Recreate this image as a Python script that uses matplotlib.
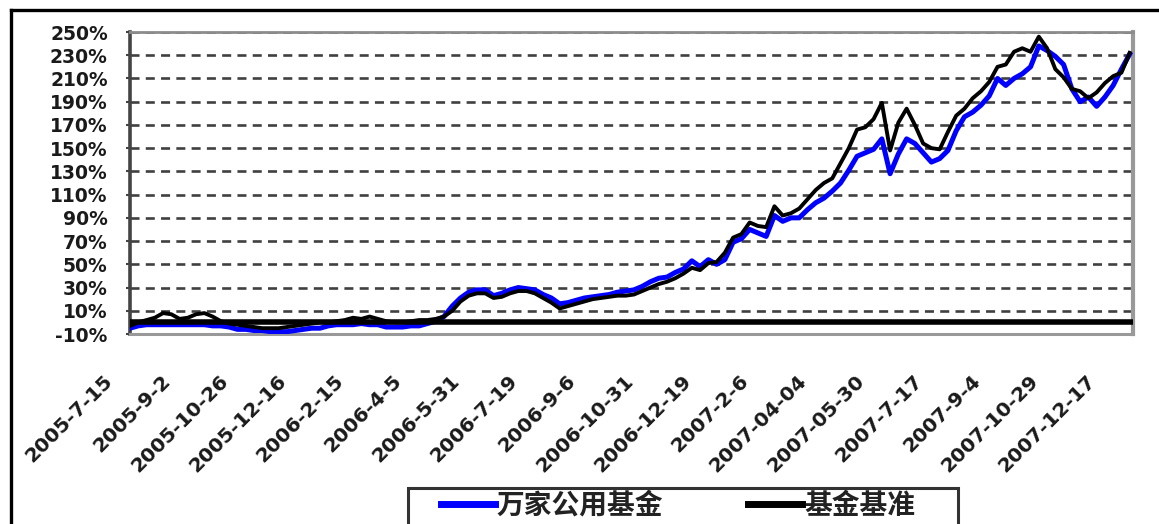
import numpy as np
import matplotlib.pyplot as plt
from matplotlib.transforms import ScaledTranslation
from matplotlib.patches import Rectangle
from matplotlib.lines import Line2D

plt.rcParams['lines.scale_dashes'] = False

# cumulative return (%), one reading about every 5 trading days, 2005-7-15 .. end of 2007
fund_values = [-5, -3, -2, -2, -2, -2, -2, -2, -2, -2,
               -3, -3, -4, -6, -6, -7, -7, -8, -8, -8,
               -7, -6, -5, -5, -3, -2, -2, -2, -1, -2,
               -2, -4, -4, -4, -3, -3,
               -1, 1, 5, 14, 21, 26, 28, 28, 23, 25,
               28, 30, 29, 28, 24, 21, 16, 17, 19, 21,
               22, 23, 24, 26, 27, 28, 31, 35, 38, 39,
               43, 46, 53, 48, 54,
               50, 54, 69, 72, 80, 77, 74, 92, 87, 90,
               90, 97, 103, 107, 113, 120, 131, 143, 146, 149,
               158, 128, 145, 158, 154, 146, 138, 141, 148, 165,
               177, 181, 187, 195, 210, 204, 210, 214, 220, 238,
               234, 229, 222, 201, 190, 194, 186, 194, 204, 218,
               231]
bench_values = [-3, 0, 2, 4, 8, 7, 3, 4, 7, 8,
                5, 1, -1, -2, -3, -4, -5, -5, -5, -4,
                -3, -2, -1, 0, 0, 1, 2, 4, 3, 5,
                3, 1, 0, 0, 1, 2,
                2, 3, 5, 10, 18, 23, 25, 25, 21, 22,
                25, 27, 27, 25, 21, 17, 12, 14, 16, 18,
                20, 21, 22, 23, 23, 24, 27, 30, 33, 35,
                38, 42, 47, 45, 51,
                52, 60, 73, 76, 86, 83, 82, 100, 92, 94,
                98, 106, 114, 120, 124, 137, 150, 166, 168, 175,
                189, 148, 172, 184, 170, 154, 150, 149, 164, 178,
                184, 193, 199, 207, 220, 222, 233, 236, 233, 246,
                236, 218, 211, 201, 199, 193, 198, 206, 212, 215,
                232]

# a date label every 7 readings
tick_labels = ["2005-7-15", "2005-9-2", "2005-10-26", "2005-12-16", "2006-2-15",
               "2006-4-5", "2006-5-31", "2006-7-19", "2006-9-6", "2006-10-31",
               "2006-12-19", "2007-2-6", "2007-04-04", "2007-05-30", "2007-7-17",
               "2007-9-4", "2007-10-29", "2007-12-17"]
y_ticks = [-10, 10, 30, 50, 70, 90, 110, 130, 150, 170, 190, 210, 230, 250]
series_names = ["万家公用基金", "基金基准"]

W, H = 1159, 524
fig = plt.figure(figsize=(W / 100, H / 100), dpi=100)
ax = fig.add_axes([130 / W, 1 - 334 / H, (1133 - 130) / W, (334 - 32) / H])

x = np.arange(len(fund_values))
ax.plot(x, fund_values, color="#0000ff", lw=3.6, label=series_names[0], zorder=3)
ax.plot(x, bench_values, color="black", lw=2.8, label=series_names[1], zorder=4)
ax.axhline(0, color="black", lw=4, zorder=5)

ax.set_xlim(0, 121.4)
ax.set_ylim(-10, 250)
ax.set_yticks(y_ticks)
ax.set_yticklabels([f"{v}%" for v in y_ticks], fontsize=13.5, fontweight="bold", color="#1a1a1a")
ax.grid(axis="y", color="#404040", lw=1.9, linestyle=(0, (6.5, 4.5)), zorder=1)

ax.set_xticks(np.arange(len(tick_labels)) * 7)
ax.set_xticklabels(tick_labels, rotation=45, ha="right", va="top", rotation_mode="anchor",
                   fontsize=14.5, fontweight="bold", color="#1a1a1a")
ax.tick_params(axis="x", length=0, pad=27)
ax.tick_params(axis="y", direction="out", length=3, width=1.5, color="#444444", pad=13)
shift = ScaledTranslation(-0.27, 0, fig.dpi_scale_trans)
for lbl in ax.get_xticklabels():
    lbl.set_transform(lbl.get_transform() + shift)

ax.spines["left"].set_color("#444444")
ax.spines["left"].set_linewidth(2.6)
ax.spines["bottom"].set_color("#999999")
ax.spines["bottom"].set_linewidth(2.2)
ax.spines["top"].set_color("#8c8c8c")
ax.spines["top"].set_linewidth(2.0)
ax.spines["right"].set_color("#999999")
ax.spines["right"].set_linewidth(3.0)

# legend, its box runs off the bottom of the picture
leg = fig.legend(loc="upper left", bbox_to_anchor=(441 / W, 1 - 492 / H), ncol=2,
                 frameon=False, borderpad=0, borderaxespad=0, handlelength=1.94,
                 handletextpad=0.07, columnspacing=3.05,
                 prop={"family": ["Noto Sans CJK SC", "DejaVu Sans"], "weight": "bold", "size": 20})
for line in leg.get_lines():
    line.set_linewidth(5)
for t in leg.get_texts():
    t.set_color("#222222")
fig.patches.append(Rectangle((408 / W, -0.1), (958 - 408) / W, 0.1 + (1 - 488 / H),
                             transform=fig.transFigure, fill=False, edgecolor="#333333", lw=2.2))

# outer border on the left and top
fig.add_artist(Line2D([11 / W, 11 / W], [0, 1 - 10 / H], transform=fig.transFigure, color="black", lw=2.4))
fig.add_artist(Line2D([11 / W, 1], [1 - 10 / H, 1 - 10 / H], transform=fig.transFigure, color="black", lw=2.4))

fig.savefig("out.png", dpi=100)
